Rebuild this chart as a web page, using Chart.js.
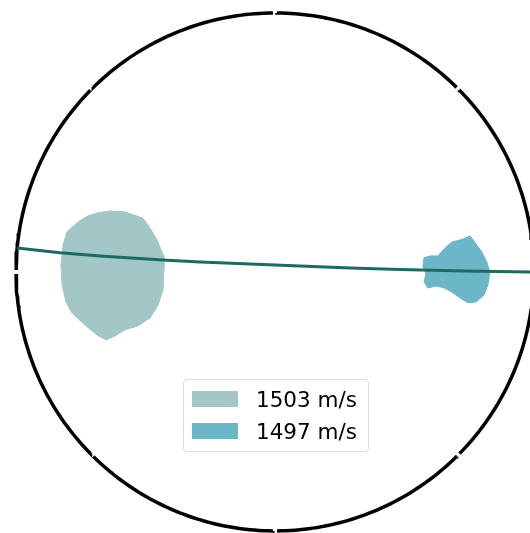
<!DOCTYPE html>
<html>
<head>
<meta charset="utf-8">
<script src="https://cdn.jsdelivr.net/npm/chart.js@4.4.0/dist/chart.umd.min.js"></script>
<style>
  html, body { margin: 0; padding: 0; background: #fff; }
  #wrap { position: relative; width: 530px; height: 533px; overflow: hidden; }
  #legend {
    position: absolute; left: 183px; top: 379px; width: 184px; height: 71px;
    border: 1px solid #dcdcdc; border-radius: 4px; background: rgba(255,255,255,0.8);
    font-family: "DejaVu Sans", sans-serif; font-size: 21.5px; color: #000;
  }
  .item { position: absolute; left: 8px; height: 22px; display: flex; align-items: center; }
  .swatch { width: 46px; height: 16px; margin-right: 18px; }
</style>
</head>
<body>
<div id="wrap">
  <canvas id="myChart" width="530" height="533"></canvas>
  <div id="legend"></div>
</div>
<script>
// outline of the first cluster (theta in degrees, r relative to outer radius)
const blobATheta = [161.7, 159.7, 158.2, 157.8, 160.6, 164.8, 171.4, 179.0, 189.1, 195.8, 200.2, 201.5,
  201.1, 201.8, 201.9, 199.5, 195.6, 191.4, 188.2, 183.5, 178.1, 172.7, 169.1, 165.8, 163.3];
const blobAR = [0.724, 0.679, 0.624, 0.551, 0.512, 0.472, 0.437, 0.429, 0.438, 0.469, 0.514, 0.569,
  0.621, 0.665, 0.703, 0.729, 0.762, 0.800, 0.815, 0.824, 0.827, 0.825, 0.818, 0.785, 0.754];

// outline of the second cluster
const blobBTheta = [8.0, 9.6, 9.8, 10.1, 10.5, 7.9, 5.5, 2.7, 0.0, -3.5, -6.3, -8.5,
  -9.1, -8.0, -6.5, -5.4, -5.0, -6.0, -3.8, -0.8, 2.3, 5.4, 5.9, 5.6];
const blobBR = [0.663, 0.693, 0.725, 0.749, 0.766, 0.784, 0.803, 0.819, 0.830, 0.824, 0.812, 0.785,
  0.755, 0.721, 0.688, 0.656, 0.624, 0.594, 0.577, 0.583, 0.572, 0.578, 0.602, 0.632];

// ray path
const rayTheta = [174.7, 174.9, 174.8, 173.9, 172.4, 162.3, 13.5, 3.05, 1.15, 0.30, 0.0];
const rayR = [1.0, 0.833, 0.678, 0.435, 0.292, 0.101, 0.099, 0.290, 0.483, 0.734, 1.0];

const seriesLabels = ['1503 m/s', '1497 m/s'];
const seriesColors = ['#a3c7c7', '#6bb7c7'];

const tickAngles = [0, 45, 90, 135, 180, 225, 270, 315];

function toXY(thetas, rs, close) {
  const pts = thetas.map((t, i) => {
    const a = t * Math.PI / 180;
    return { x: rs[i] * Math.cos(a), y: rs[i] * Math.sin(a) };
  });
  if (close) pts.push(pts[0]);
  return pts;
}

// outer spine split by the angular ticks
function spinePoints() {
  const gap = 0.45;
  const pts = [];
  tickAngles.forEach((t, i) => {
    const end = (i + 1 < tickAngles.length ? tickAngles[i + 1] : 360) - gap;
    for (let a = t + gap; a < end; a += 1) {
      pts.push({ x: Math.cos(a * Math.PI / 180), y: Math.sin(a * Math.PI / 180) });
    }
    pts.push({ x: Math.cos(end * Math.PI / 180), y: Math.sin(end * Math.PI / 180) });
    pts.push({ x: NaN, y: NaN });
  });
  return pts;
}

const ctx = document.getElementById('myChart');
const myChart = new Chart(ctx, {
  type: 'scatter',
  data: {
    datasets: [
      {
        label: 'ray',
        data: toXY(rayTheta, rayR, false),
        showLine: true, borderColor: '#1d6a61', borderWidth: 3,
        pointRadius: 0, fill: false, order: 0
      },
      {
        label: 'spine',
        data: spinePoints(),
        showLine: true, borderColor: '#000', borderWidth: 3.5, borderCapStyle: 'butt',
        pointRadius: 0, fill: false, order: 1
      },
      {
        label: seriesLabels[0],
        data: toXY(blobATheta, blobAR, true),
        showLine: true, borderColor: seriesColors[0], backgroundColor: seriesColors[0],
        borderWidth: 1, pointRadius: 0, fill: 'shape', order: 3
      },
      {
        label: seriesLabels[1],
        data: toXY(blobBTheta, blobBR, true),
        showLine: true, borderColor: seriesColors[1], backgroundColor: seriesColors[1],
        borderWidth: 1, pointRadius: 0, fill: 'shape', order: 2
      }
    ]
  },
  options: {
    responsive: false,
    animation: false,
    layout: { padding: 0 },
    scales: {
      x: { type: 'linear', display: false, min: -1.062, max: 0.985 },
      y: { type: 'linear', display: false, min: -1.008, max: 1.050 }
    },
    plugins: {
      legend: { display: false },
      tooltip: { enabled: false }
    }
  }
});

// legend from the cluster datasets
const legendEl = document.getElementById('legend');
seriesLabels.forEach((lab, i) => {
  const item = document.createElement('div');
  item.className = 'item';
  item.style.top = (8 + i * 32) + 'px';
  item.innerHTML = '<span class="swatch" style="background:' + seriesColors[i] + '"></span><span>' + lab + '</span>';
  legendEl.appendChild(item);
});
</script>
</body>
</html>
